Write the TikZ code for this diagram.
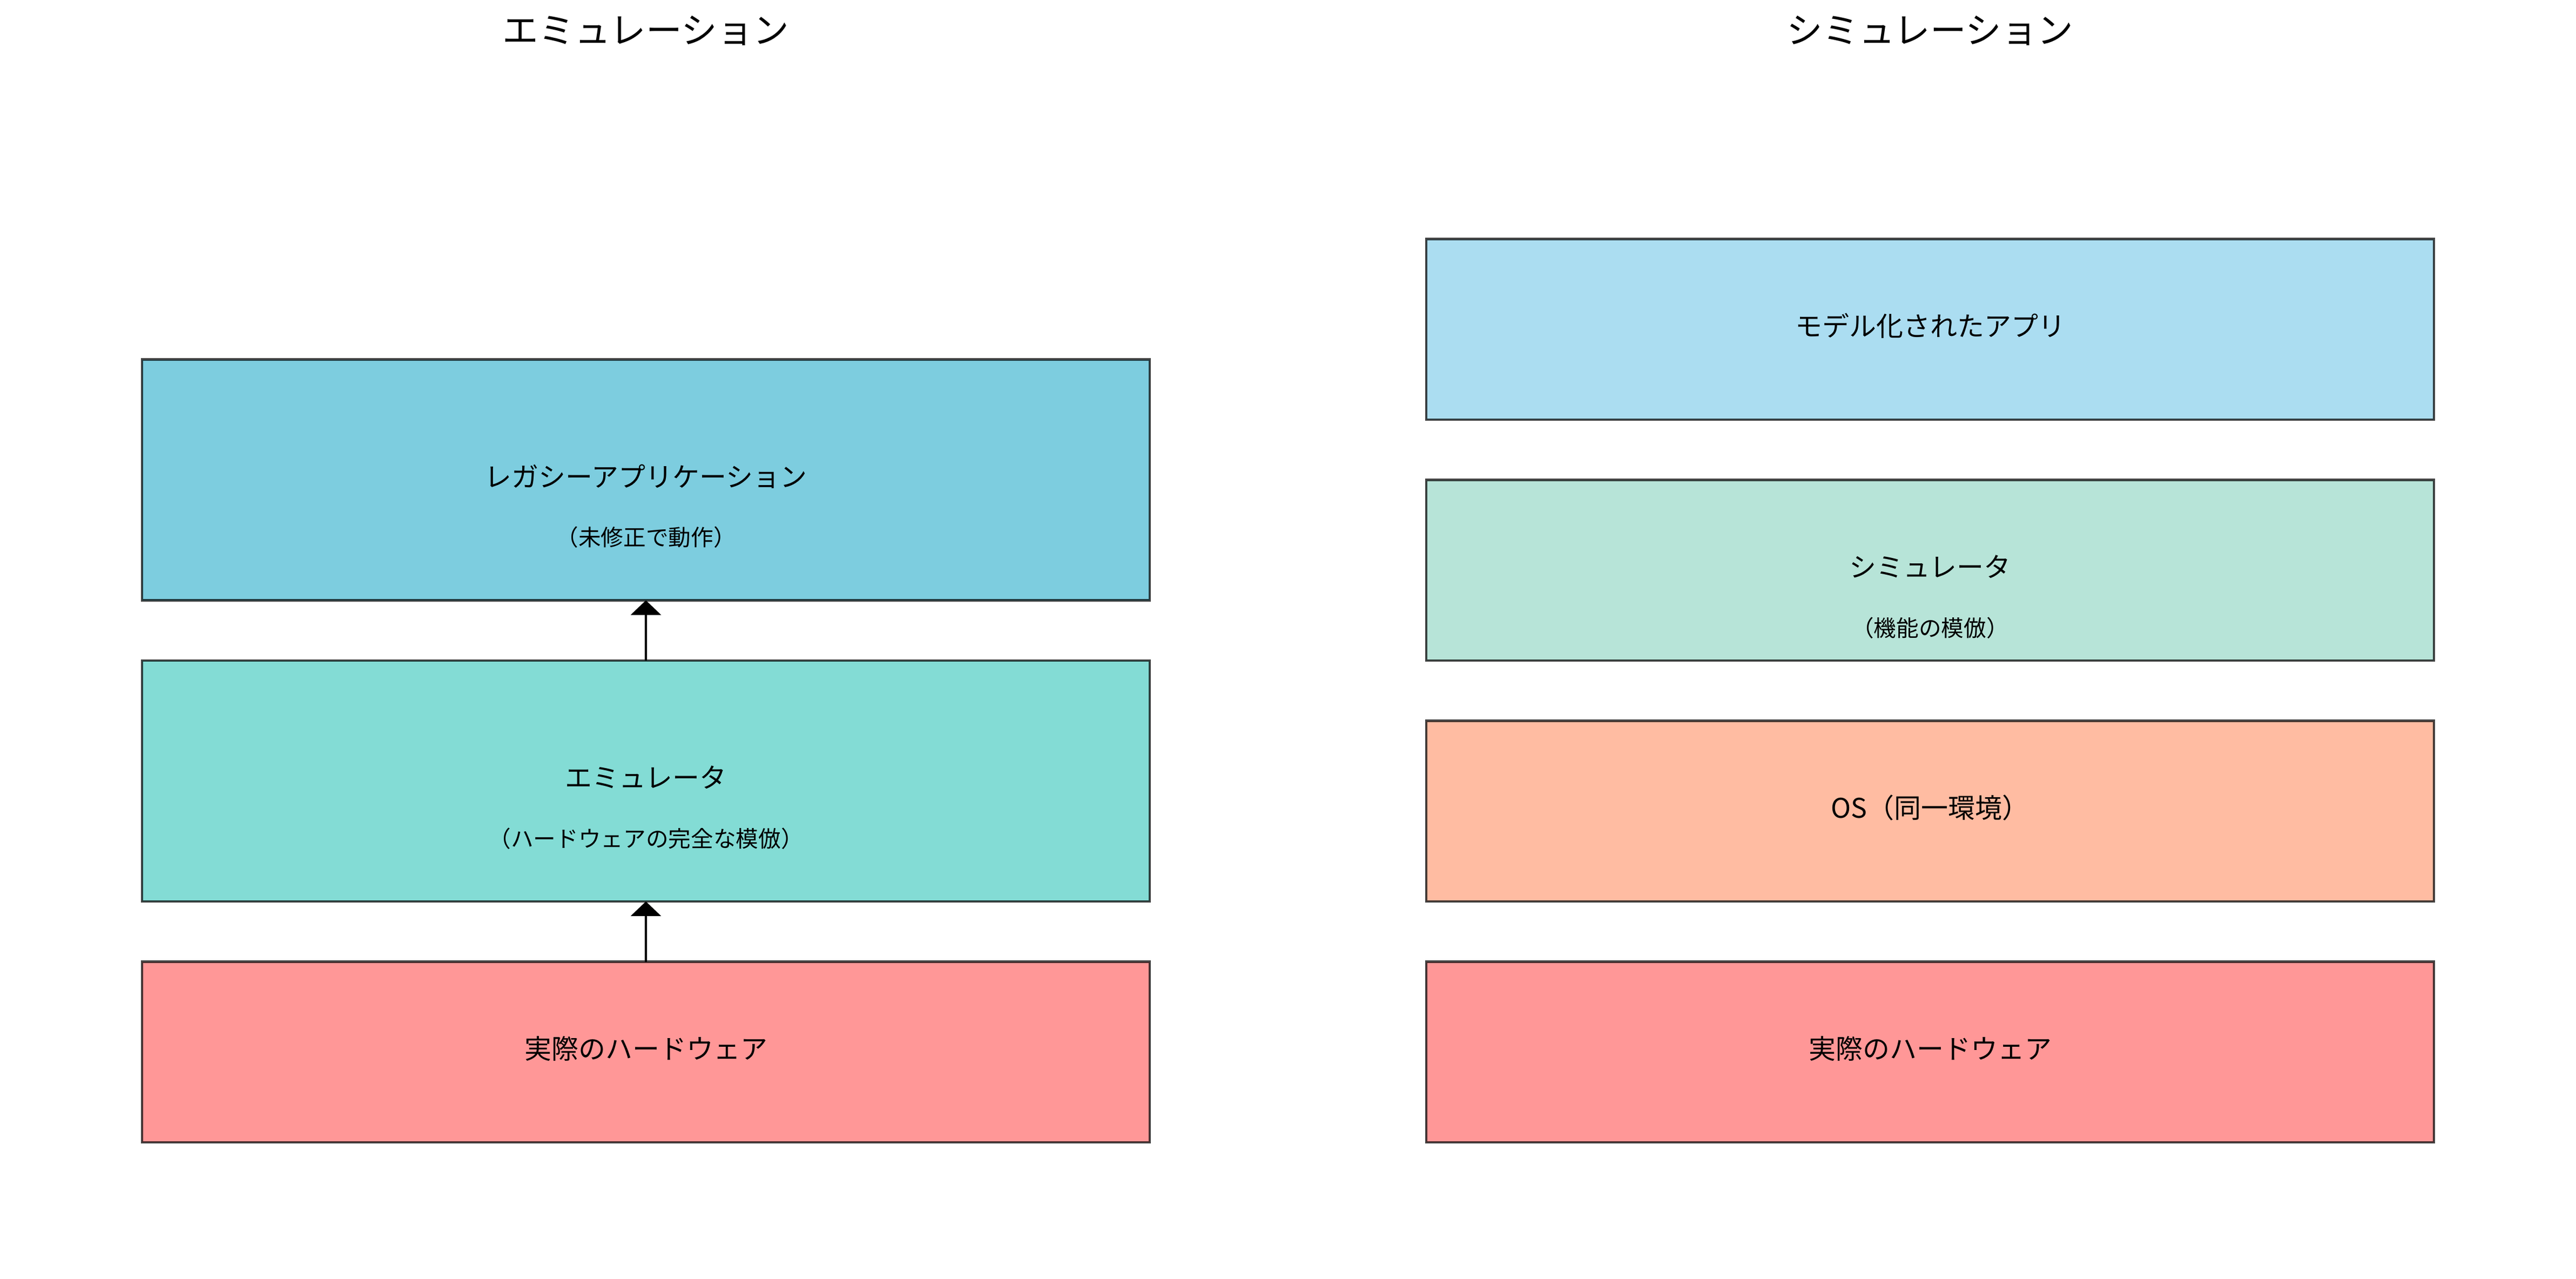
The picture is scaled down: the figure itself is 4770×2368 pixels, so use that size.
\documentclass[tikz,border=0pt]{standalone}
\usepackage{fontspec}
\setmainfont{Noto Sans CJK JP}
\usetikzlibrary{arrows.meta}
\definecolor{cA}{RGB}{125,205,223}
\definecolor{cB}{RGB}{131,220,213}
\definecolor{cC}{RGB}{255,151,151}
\definecolor{cD}{RGB}{171,221,241}
\definecolor{cE}{RGB}{183,228,216}
\definecolor{cF}{RGB}{255,188,162}
\tikzset{
  layer/.style={draw=black, draw opacity=0.72, line width=1pt, rectangle,
    minimum width=447.84pt, inner sep=0pt, outer sep=0pt},
  tall/.style={layer, minimum height=107.04pt},
  short/.style={layer, minimum height=80.28pt},
  mainlabel/.style={inner sep=0pt, font=\fontsize{12}{14}\selectfont},
  sublabel/.style={inner sep=0pt, font=\fontsize{10}{12}\selectfont},
  ttl/.style={inner sep=0pt, font=\fontsize{16}{19}\selectfont},
  up/.style={-{Triangle[width=13.4pt,length=6.5pt]}, line width=1pt, black}
}
\begin{document}
\begin{tikzpicture}[x=0.24pt,y=-0.24pt]
\useasboundingbox[fill=white] (0,0) rectangle (4770,2368);
% titles
\node[ttl] (t1) at (1196,57) {エミュレーション};
\node[ttl] (t2) at (3574,57) {シミュレーション};
% left stack
\node[tall, fill=cA] (app) at (1196,888.5) {};
\node[mainlabel] (applab) at (1196,882) {レガシーアプリケーション};
\node[sublabel] (appsub) at (1196,995) {（未修正で動作）};
\node[tall, fill=cB] (emu) at (1196,1446) {};
\node[mainlabel] (emulab) at (1196,1439.5) {エミュレータ};
\node[sublabel] (emusub) at (1196,1553) {（ハードウェアの完全な模倣）};
\node[short, fill=cC] (hw1) at (1196,1947.75) {};
\node[mainlabel] (hw1lab) at (1196,1941.5) {実際のハードウェア};
% right stack
\node[short, fill=cD] (model) at (3574,609.75) {};
\node[mainlabel] (modellab) at (3574,603.5) {モデル化されたアプリ};
\node[short, fill=cE] (sim) at (3574,1055.75) {};
\node[mainlabel] (simlab) at (3574,1049.5) {シミュレータ};
\node[sublabel] (simsub) at (3574,1163) {（機能の模倣）};
\node[short, fill=cF] (os) at (3574,1501.75) {};
\node[mainlabel] (oslab) at (3574,1495.5) {OS（同一環境）};
\node[short, fill=cC] (hw2) at (3574,1947.75) {};
\node[mainlabel] (hw2lab) at (3574,1941.5) {実際のハードウェア};
% arrows
\draw[up] (hw1.north) -- (emu.south);
\draw[up] (emu.north) -- (app.south);
\end{tikzpicture}
\end{document}
